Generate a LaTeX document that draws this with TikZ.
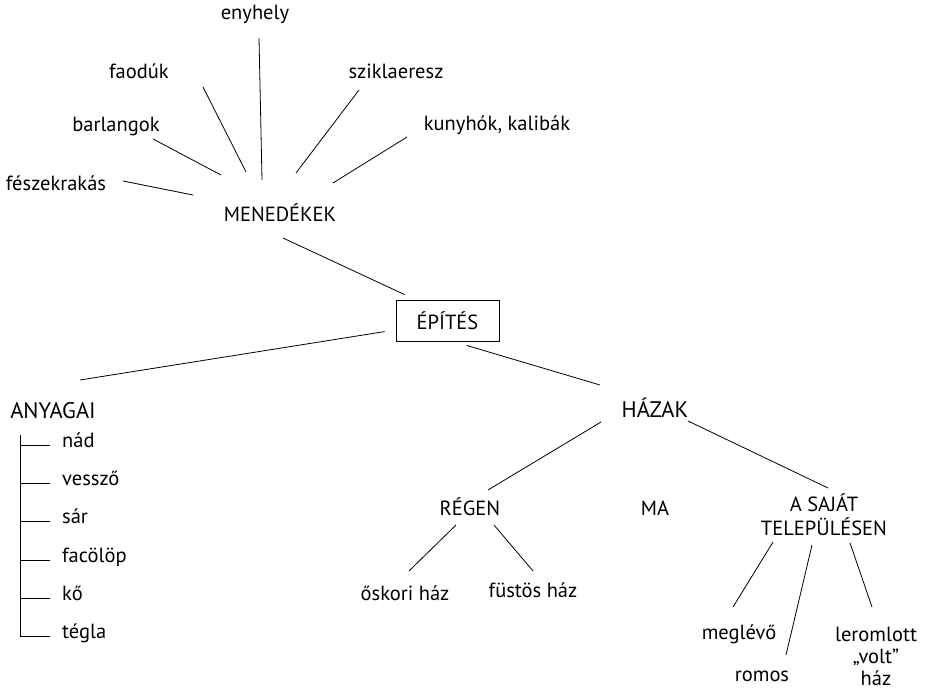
\documentclass[tikz,border=0pt]{standalone}
\usepackage{fontspec}
\setmainfont{PT Sans}
\begin{document}
\begin{tikzpicture}[x=1pt,y=-1pt,
  lbl/.style={inner sep=0pt,anchor=base,font=\fontsize{20.5}{24}\selectfont},
  capl/.style={inner sep=0pt,anchor=base,font=\fontsize{20.5}{24}\selectfont},
  big/.style={inner sep=0pt,anchor=base,font=\fontsize{22.5}{26}\selectfont},
  multi/.style={inner sep=0pt,align=center},
  edge/.style={draw=black,line width=0.8pt},
  boxed/.style={draw=black,line width=0.8pt,minimum width=103pt,minimum height=41pt,inner sep=0pt,font=\fontsize{20.5}{24}\selectfont}]
\useasboundingbox (0,0) rectangle (925,692);
% top cluster
\node[lbl] (enyh) at (255,20) {enyhely};
\node[lbl] (faod) at (139,79) {faodúk};
\node[lbl] (szik) at (396,79) {sziklaeresz};
\node[lbl] (barl) at (116,132) {barlangok};
\node[lbl] (kuny) at (497,131) {kunyhók, kalibák};
\node[lbl] (fesz) at (56,191) {fészekrakás};
\node[capl] (men) at (280,222) {MENEDÉKEK};
\node[boxed] (epit) at (447.5,320.5) {ÉPÍTÉS};
\draw[edge] ([shift={(67,-10)}]fesz.base) -- ([shift={(-87,-27)}]men.base);
\draw[edge] ([shift={(37,7)}]barl.base) -- ([shift={(-59,-47)}]men.base);
\draw[edge] ([shift={(64,8)}]faod.base) -- ([shift={(-34,-50)}]men.base);
\draw[edge] ([shift={(4,18)}]enyh.base) -- ([shift={(-18,-42)}]men.base);
\draw[edge] ([shift={(-37,11)}]szik.base) -- ([shift={(16,-49)}]men.base);
\draw[edge] ([shift={(-90,6)}]kuny.base) -- ([shift={(53,-39)}]men.base);
\draw[edge] ([shift={(3,16)}]men.base) -- ([shift={(9,-5)}]epit.north west);
% second level
\node[big] (anya) at (53,418) {ANYAGAI};
\node[big] (haz) at (655,417) {HÁZAK};
\draw[edge] ([shift={(-11,32)}]epit.north west) -- ([shift={(27,-38)}]anya.base);
\draw[edge] ([shift={(71,4)}]epit.south west) -- ([shift={(-55,-32)}]haz.base);
% materials list
\coordinate (trtop) at (20,435);
\coordinate (trbot) at (20,636);
\draw[edge] (trtop) -- (trbot);
\foreach \nm/\txt/\yy in {nad/nád/445, vesz/vessző/483, sar/sár/521, faco/facölöp/560, ko/kő/598, tegl/tégla/636}{
  \node[inner sep=0pt,anchor=mid west,font=\fontsize{20.5}{24}\selectfont] (\nm) at (62,\yy) {\txt};
  \draw[edge,shorten >=12pt] (trtop |- \nm.mid west) -- (\nm.mid west);
}
% houses
\node[capl] (regen) at (470,515) {RÉGEN};
\node[capl] (ma) at (655,515) {MA};
\node[multi,font=\fontsize{20.5}{24}\selectfont] (saj) at (824,515) {A SAJÁT\\TELEPÜLÉSEN};
\draw[edge] ([shift={(-54,5)}]haz.base) -- ([shift={(18,-25)}]regen.base);
\draw[edge] ([shift={(33,4)}]haz.base) -- ([shift={(4,-27)}]saj.center);
\node[lbl] (osk) at (405,600) {őskori ház};
\node[lbl] (fust) at (533,597) {füstös ház};
\draw[edge] ([shift={(-14,10)}]regen.base) -- ([shift={(4,-29)}]osk.base);
\draw[edge] ([shift={(24,10)}]regen.base) -- ([shift={(0,-26)}]fust.base);
\node[lbl] (megl) at (739,639) {meglévő};
\node[lbl] (romos) at (762,681) {romos};
\node[multi,font=\fontsize{20.5}{22}\selectfont] (lero) at (876,656) {leromlott\\„volt”\\ház};
\draw[edge] ([shift={(-51,27)}]saj.center) -- ([shift={(-6,-32)}]megl.base);
\draw[edge] ([shift={(-12,30)}]saj.center) -- ([shift={(24,-26)}]romos.base);
\draw[edge] ([shift={(26,28)}]saj.center) -- ([shift={(-4,-49)}]lero.center);
\end{tikzpicture}
\end{document}
